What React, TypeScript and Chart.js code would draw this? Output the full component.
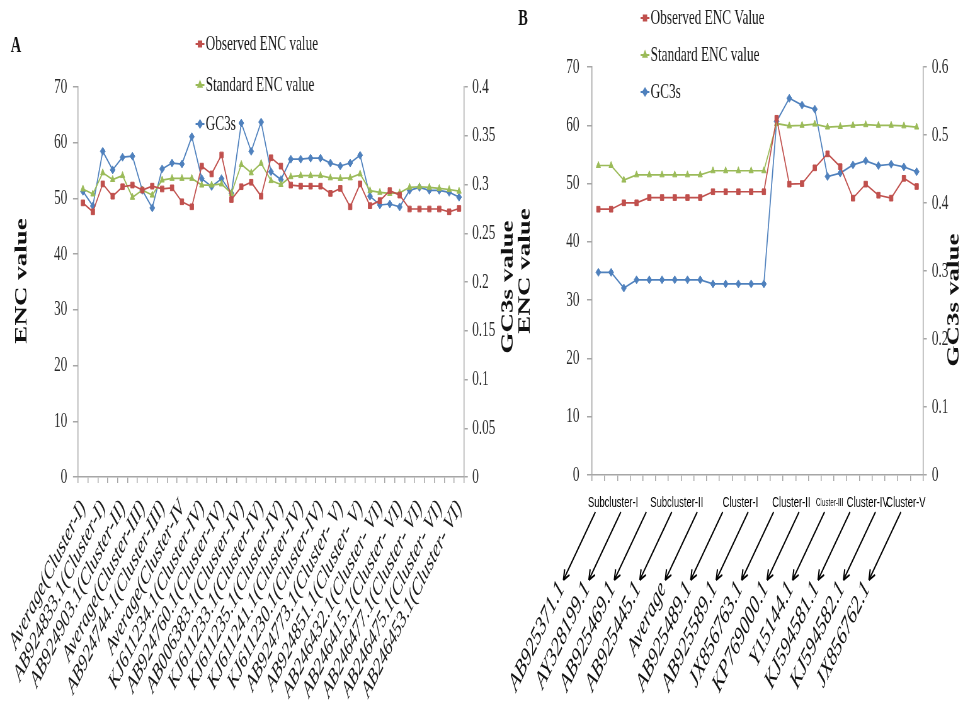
import React, { useEffect, useRef } from 'react';
import { Chart, registerables } from 'chart.js';
import { drawPoint } from 'chart.js/helpers';

Chart.register(...registerables);

// The reference picture is horizontally squeezed: draw on a wider bitmap shown at 963px.
const W = 963;
const H = 706;
const IW = 1529;
const K = IW / W;
const vx = (x: number) => x * K;

const SERIF = '"Liberation Serif", "Times New Roman", Times, serif';
const SANS = '"Liberation Sans", Arial, sans-serif';
const RED = '#C0504D';
const GREEN = '#9BBB59';
const BLUE = '#4F81BD';
const AXIS = '#a6a6a6';
const TEXT = '#1a1a1a';
const COLORS = [RED, GREEN, BLUE];
const STYLES = ['rect', 'triangle', 'rectRot'];

// ---------------- Panel A ----------------
const namesA = [
  'Average(Cluster-I)', 'AB924833.1(Cluster-I)', 'AB924903.1(Cluster-II)', 'Average(Cluster-III)',
  'AB924744.1(Cluster-III)', 'Average(Cluster-IV', 'KJ611234.1(Cluster-IV)', 'AB924760.1(Cluster-IV)',
  'AB006383.1(Cluster-IV)', 'KJ611233.1(Cluster-IV)', 'KJ611235.1(Cluster-IV)', 'KJ611241.1(Cluster-IV)',
  'KJ611230.1(Cluster-IV)', 'AB924773.1(Cluster- V)', 'AB924851.1(Cluster- V)', 'AB246432.1(Cluster- VI)',
  'AB246415.1(Cluster- VI)', 'AB246477.1(Cluster- VI)', 'AB246475.1(Cluster- VI)', 'AB246453.1(Cluster- VI)',
];
const seriesA = ['Observed ENC value', 'Standard ENC value', 'GC3s'];
const observedA = [
  49.2, 47.6, 52.6, 50.4, 52.1, 52.4, 51.5, 52.2, 51.7, 51.9,
  49.4, 48.5, 55.8, 54.4, 57.8, 49.8, 52.1, 52.9, 50.4, 57.3,
  55.8, 52.4, 52.2, 52.2, 52.2, 50.9, 51.8, 48.5, 52.6, 48.7,
  49.6, 51.4, 50.6, 48.1, 48.1, 48.1, 48.1, 47.6, 48.2,
];
const standardA = [
  51.7, 50.8, 54.6, 53.4, 54.1, 50.2, 51.5, 50.6, 53.3, 53.6,
  53.6, 53.6, 52.4, 52.4, 52.6, 50.9, 56.1, 54.6, 56.3, 53.2,
  52.5, 53.9, 54.1, 54.1, 54.1, 53.7, 53.6, 53.7, 54.4, 51.4,
  51.1, 50.9, 51.0, 52.0, 52.1, 52.0, 51.8, 51.6, 51.3,
];
const gc3sA = [
  0.293, 0.278, 0.334, 0.315, 0.328, 0.329, 0.294, 0.276, 0.316, 0.322,
  0.321, 0.349, 0.306, 0.298, 0.306, 0.291, 0.363, 0.334, 0.364, 0.313,
  0.305, 0.326, 0.326, 0.327, 0.327, 0.322, 0.319, 0.322, 0.330, 0.288,
  0.279, 0.280, 0.277, 0.294, 0.297, 0.294, 0.294, 0.292, 0.287,
];
const encTicks = [0, 10, 20, 30, 40, 50, 60, 70];
const gc3sTicksA = [0, 0.05, 0.1, 0.15, 0.2, 0.25, 0.3, 0.35, 0.4];

// ---------------- Panel B ----------------
const namesB = [
  'AB925371.1', 'AY328199.1', 'AB925469.1', 'AB925445.1', 'Average', 'AB925489.1', 'AB925589.1',
  'JX856763.1', 'KP769000.1', 'Y15144.1', 'KJ594581.1', 'KJ594582.1', 'JX856762.1',
];
const clustersB = ['Subcluster-I', 'Subcluster-II', 'Cluster-I', 'Cluster-II', 'Cluster-III', 'Cluster-IV', 'Cluster-V'];
const clusterMembersB = [[0, 1], [2, 3, 4], [5, 6], [7, 8], [9], [10, 11], [12]];
const seriesB = ['Observed ENC Value', 'Standard ENC value', 'GC3s'];
const observedB = [
  45.6, 45.6, 46.7, 46.7, 47.6, 47.6, 47.6, 47.6, 47.6, 48.6, 48.6, 48.6, 48.6,
  48.6, 61.2, 49.9, 50.0, 52.7, 55.1, 52.9, 47.5, 49.9, 48.0, 47.5, 50.9, 49.5,
];
const standardB = [
  53.1, 53.1, 50.6, 51.5, 51.5, 51.5, 51.5, 51.5, 51.5, 52.2, 52.2, 52.2, 52.2,
  52.2, 60.3, 59.9, 60.0, 60.2, 59.7, 59.8, 60.0, 60.1, 60.0, 60.0, 59.9, 59.7,
];
const gc3sB = [
  0.298, 0.298, 0.275, 0.287, 0.287, 0.287, 0.287, 0.287, 0.287, 0.281, 0.281, 0.281, 0.281,
  0.281, 0.520, 0.554, 0.544, 0.538, 0.439, 0.444, 0.456, 0.462, 0.455, 0.457, 0.453, 0.446,
];
const gc3sTicksB = [0, 0.1, 0.2, 0.3, 0.4, 0.5, 0.6];

const catsA = observedA.map((_, i) => (i % 2 === 0 ? namesA[i / 2] : ''));
const catsB = observedB.map((_, i) => (i % 2 === 0 ? namesB[i / 2] : ''));

function makeDatasets(names: string[], series: number[][]) {
  return series.map((data, k) => ({
    label: names[k],
    data,
    yAxisID: k === 2 ? 'y1' : 'y',
    borderColor: COLORS[k],
    backgroundColor: COLORS[k],
    borderWidth: 1.7,
    pointStyle: STYLES[k],
    pointRadius: 4,
    pointBorderWidth: 1,
    pointBackgroundColor: COLORS[k],
    pointBorderColor: COLORS[k],
    tension: 0,
    fill: false,
  }));
}

function yAxis(position: string, max: number, values: number[], tickLen: number, pad: number, width: number) {
  return {
    position,
    min: 0,
    max,
    afterBuildTicks: (s: any) => {
      s.ticks = values.map((v) => ({ value: v }));
    },
    afterFit: (s: any) => {
      s.width = width;
    },
    grid: { display: true, drawOnChartArea: false, drawTicks: true, tickLength: tickLen, color: AXIS, lineWidth: 1.5 },
    border: { display: true, color: AXIS, width: 1.5 },
    ticks: {
      font: { family: SERIF, size: 21 },
      color: '#2a2a2a',
      padding: pad,
      callback: (v: any) => String(Math.round(Number(v) * 1000) / 1000),
    },
  };
}

function xAxis(showLabels: boolean, height: number) {
  return {
    type: 'category',
    offset: true,
    afterFit: (s: any) => {
      s.height = height;
    },
    grid: { display: true, offset: true, drawOnChartArea: false, drawTicks: true, tickLength: 6, color: AXIS, lineWidth: 1.5 },
    border: { display: true, color: AXIS, width: 1.5 },
    ticks: {
      display: showLabels,
      autoSkip: false,
      minRotation: 52,
      maxRotation: 52,
      padding: 12,
      font: { family: SERIF, size: 24, style: 'italic' },
      color: TEXT,
    },
  };
}

type Decor = {
  letter: string;
  letterAt: [number, number];
  titles: { text: string; x: number; y: number }[];
  legendNames: string[];
  legendX: number;
  legendYs: number[];
  extra?: (chart: any, ctx: CanvasRenderingContext2D) => void;
};

function decorPlugin(d: Decor) {
  return {
    id: 'decor',
    afterDraw(chart: any) {
      const ctx: CanvasRenderingContext2D = chart.ctx;
      ctx.save();
      ctx.fillStyle = '#111';
      ctx.textAlign = 'center';
      ctx.textBaseline = 'middle';
      ctx.font = `bold 23px ${SERIF}`;
      ctx.fillText(d.letter, vx(d.letterAt[0]), d.letterAt[1]);
      ctx.font = `bold 27px ${SERIF}`;
      for (const t of d.titles) {
        ctx.save();
        ctx.translate(vx(t.x), t.y);
        ctx.rotate(-Math.PI / 2);
        ctx.fillText(t.text, 0, 0);
        ctx.restore();
      }
      ctx.font = `21px ${SERIF}`;
      ctx.textAlign = 'left';
      d.legendNames.forEach((name, k) => {
        const y = d.legendYs[k];
        const mx = vx(d.legendX);
        ctx.strokeStyle = COLORS[k];
        ctx.fillStyle = COLORS[k];
        ctx.lineWidth = 2;
        ctx.beginPath();
        ctx.moveTo(mx - 7, y);
        ctx.lineTo(mx + 7, y);
        ctx.stroke();
        drawPoint(ctx, { pointStyle: STYLES[k], radius: 3.5, rotation: 0, borderWidth: 1 } as any, mx, y);
        ctx.fillStyle = TEXT;
        ctx.fillText(name, mx + 9, y);
      });
      if (d.extra) d.extra(chart, ctx);
      ctx.restore();
    },
  };
}

function drawBLabels(chart: any, ctx: CanvasRenderingContext2D) {
  const xs = chart.scales.x;
  const pix = (j: number) => xs.getPixelForValue(2 * j);
  const yTop = 512;
  const yBot = 580;
  ctx.strokeStyle = '#000';
  ctx.fillStyle = '#111';
  ctx.lineWidth = 2;
  namesB.forEach((name, j) => {
    const cx = pix(j);
    const x1 = cx - vx(3);
    const x2 = cx - vx(35);
    const ang = Math.atan2(yBot - yTop, x1 - x2);
    ctx.beginPath();
    ctx.moveTo(x1, yTop);
    ctx.lineTo(x2, yBot);
    ctx.stroke();
    const L = 11;
    for (const s of [-0.45, 0.45]) {
      ctx.beginPath();
      ctx.moveTo(x2, yBot);
      ctx.lineTo(x2 + L * Math.cos(-ang + s), yBot + L * Math.sin(-ang + s));
      ctx.stroke();
    }
    ctx.save();
    ctx.translate(x2 - 2, yBot + 3);
    ctx.rotate(-ang);
    ctx.textAlign = 'right';
    ctx.textBaseline = 'middle';
    ctx.font = `italic 26px ${SERIF}`;
    ctx.fillText(name, -2, 0);
    ctx.restore();
  });
  ctx.textAlign = 'center';
  ctx.textBaseline = 'middle';
  ctx.fillStyle = '#000';
  clustersB.forEach((name, c) => {
    const m = clusterMembersB[c];
    const x = m.reduce((a, j) => a + pix(j), 0) / m.length + vx(2);
    ctx.font = name === 'Cluster-III' ? `10px ${SANS}` : `15px ${SANS}`;
    ctx.fillText(name, x, 503);
  });
}

function configA(): any {
  return {
    type: 'line',
    data: { labels: catsA, datasets: makeDatasets(seriesA, [observedA, standardA, gc3sA]) },
    options: {
      animation: false,
      responsive: false,
      devicePixelRatio: 1,
      events: [],
      layout: { padding: { left: 0, top: 87, right: IW - vx(464) - 70, bottom: 0 } },
      plugins: { legend: { display: false }, tooltip: { enabled: false } },
      scales: {
        x: xAxis(true, H - 477),
        y: yAxis('left', 70, encTicks, 8, 9, vx(78)),
        y1: yAxis('right', 0.4, gc3sTicksA, 6, 7, 70),
      },
    },
    plugins: [
      decorPlugin({
        letter: 'A',
        letterAt: [16, 46],
        titles: [
          { text: 'ENC value', x: 22, y: 281 },
          { text: 'GC3s value', x: 508, y: 287 },
        ],
        legendNames: seriesA,
        legendX: 200,
        legendYs: [44, 85, 124],
      }),
    ],
  };
}

function configB(): any {
  const rightW = IW - vx(923);
  return {
    type: 'line',
    data: { labels: catsB, datasets: makeDatasets(seriesB, [observedB, standardB, gc3sB]) },
    options: {
      animation: false,
      responsive: false,
      devicePixelRatio: 1,
      events: [],
      layout: { padding: { left: vx(592) - 100, top: 67, right: 0, bottom: 0 } },
      plugins: { legend: { display: false }, tooltip: { enabled: false } },
      scales: {
        x: xAxis(false, H - 475),
        y: yAxis('left', 70, encTicks, 8, 12, 100),
        y1: yAxis('right', 0.6, gc3sTicksB, 6, 8, rightW),
      },
    },
    plugins: [
      decorPlugin({
        letter: 'B',
        letterAt: [523, 19],
        titles: [
          { text: 'ENC value', x: 525, y: 271 },
          { text: 'GC3s value', x: 954, y: 300 },
        ],
        legendNames: seriesB,
        legendX: 645,
        legendYs: [18, 55, 92],
        extra: drawBLabels,
      }),
    ],
  };
}

export default function App() {
  const refA = useRef<HTMLCanvasElement>(null);
  const refB = useRef<HTMLCanvasElement>(null);
  useEffect(() => {
    const a = new Chart(refA.current as HTMLCanvasElement, configA());
    const b = new Chart(refB.current as HTMLCanvasElement, configB());
    return () => {
      a.destroy();
      b.destroy();
    };
  }, []);
  const cs: React.CSSProperties = { position: 'absolute', left: 0, top: 0, width: `${W}px`, height: `${H}px` };
  return (
    <div style={{ position: 'absolute', left: 0, top: 0, width: W, height: H, background: '#fff', overflow: 'hidden' }}>
      <canvas ref={refA} width={IW} height={H} style={cs} />
      <canvas ref={refB} width={IW} height={H} style={cs} />
    </div>
  );
}
